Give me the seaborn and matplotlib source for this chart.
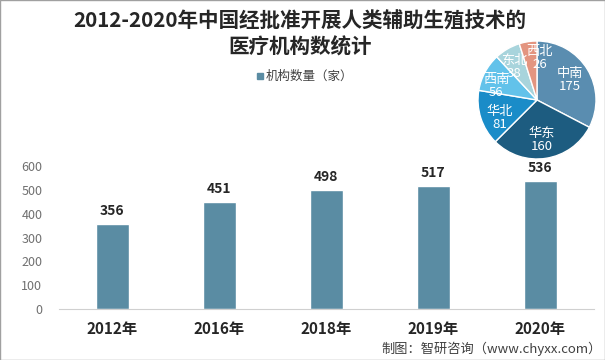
import matplotlib
matplotlib.use('Agg')
import matplotlib.pyplot as plt
import seaborn as sns
import pandas as pd

# Bar data
years = ['2012年', '2016年', '2018年', '2019年', '2020年']
counts = [356, 451, 498, 517, 536]

# Pie data (2020 by region)
regions = ['中南', '华东', '华北', '西南', '东北', '西北']
region_counts = [175, 160, 81, 56, 38, 26]
region_colors = ['#5A8DB0', '#1D5C80', '#1A8CC8', '#62C2EA', '#A8D4DC', '#E39580']
# label spots inside the pie, in units of the radius
label_spots = [(0.56, 0.34), (0.085, -0.68), (-0.63, -0.30),
               (-0.69, 0.24), (-0.39, 0.56), (0.05, 0.71)]

bar_color = '#5A8CA3'

sns.set_style('white')
plt.rcParams['font.family'] = ['Noto Sans CJK SC', 'DejaVu Sans']

fig = plt.figure(figsize=(6.05, 3.6), dpi=100)

# Main bar chart
ax = fig.add_axes([0.0975, 0.1417, 0.884, 0.397])
df = pd.DataFrame({'year': years, 'count': counts})
sns.barplot(data=df, x='year', y='count', color=bar_color, width=0.31,
            saturation=1, ax=ax)
ax.set_ylim(0, 600)
ax.set_yticks(range(0, 601, 100))
ax.set_xlabel('')
ax.set_ylabel('')
for s in ['top', 'right', 'left']:
    ax.spines[s].set_visible(False)
ax.spines['bottom'].set_color('#D0D0D0')
ax.tick_params(axis='y', labelsize=9, labelcolor='#707070', length=0, pad=12)
ax.tick_params(axis='x', length=0, pad=9)
for lbl in ax.get_xticklabels():
    lbl.set_fontsize(11)
    lbl.set_fontweight('bold')
    lbl.set_color('#262626')
for i, v in enumerate(counts):
    ax.text(i, v + 25, str(v), ha='center', va='bottom', fontsize=10,
            fontweight='bold', color='#262626')

# Pie chart inset
pax = fig.add_axes([478 / 605, 1 - 159 / 360, 118 / 605, 118 / 360])
wedges, _ = pax.pie(region_counts, colors=region_colors, startangle=90,
                    counterclock=False)
pax.set_xlim(-1, 1)
pax.set_ylim(-1, 1)
pax.set_aspect('equal')
for (dx, dy), r, c in zip(label_spots, regions, region_counts):
    pax.text(dx, dy, f'{r}\n{c}', ha='center', va='center', color='white',
             fontsize=9.5, linespacing=1.0)

# Title and legend
fig.text(300 / 605, 1 - 21 / 360, '2012-2020年中国经批准开展人类辅助生殖技术的',
         ha='center', va='center', fontsize=14.8, fontweight='bold', color='#262626')
fig.text(300 / 605, 1 - 47 / 360, '医疗机构数统计',
         ha='center', va='center', fontsize=14.8, fontweight='bold', color='#262626')
fig.patches.append(plt.Rectangle((257 / 605, 1 - 79 / 360), 6 / 605, 6 / 360,
                                 transform=fig.transFigure, color=bar_color))
fig.text(266 / 605, 1 - 76 / 360, '机构数量（家）', ha='left', va='center',
         fontsize=9, color='#404040')

# Source
fig.text(602 / 605, 1 - 349 / 360, '制图：智研咨询（www.chyxx.com）', ha='right',
         va='center', fontsize=9.5, color='#404040')

# Frame
fig.patches.append(plt.Rectangle((0, 0), 1, 1, transform=fig.transFigure,
                                 fill=False, edgecolor='#A0A0A0', linewidth=1))

fig.savefig('out.png', dpi=100)
